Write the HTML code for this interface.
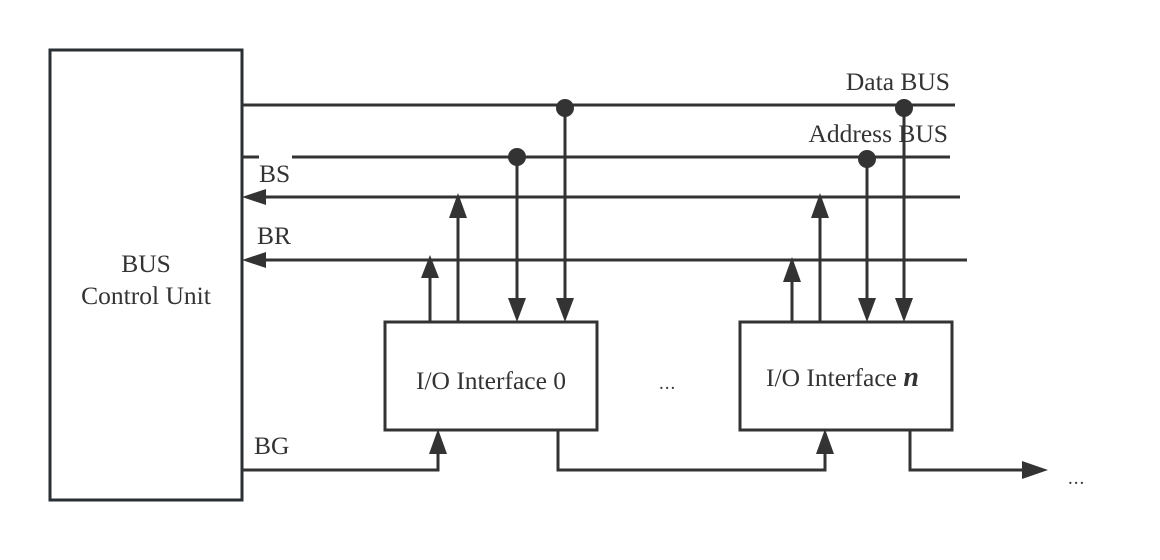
<!DOCTYPE html>
<html><head><meta charset="utf-8"><style>
html,body{margin:0;padding:0;background:#fff;width:1160px;height:560px;overflow:hidden}
</style></head><body>
<svg width="1160" height="560" viewBox="0 0 1160 560" xmlns="http://www.w3.org/2000/svg">
<g stroke="#333" stroke-width="3" fill="none">
<rect x="50" y="50" width="192" height="450" stroke="#2a2f33"/>
<rect x="385" y="322" width="212" height="108"/>
<rect x="740" y="322" width="212" height="108"/>
<line x1="242" y1="105" x2="955" y2="105"/>
<line x1="242" y1="157" x2="259" y2="157"/>
<line x1="292" y1="157" x2="950" y2="157"/>
<line x1="262" y1="197" x2="960" y2="197"/>
<line x1="262" y1="260" x2="967" y2="260"/>
<line x1="430" y1="322" x2="430" y2="275"/>
<line x1="458" y1="322" x2="458" y2="212"/>
<line x1="517" y1="157" x2="517" y2="305"/>
<line x1="565" y1="105" x2="565" y2="305"/>
<line x1="792" y1="322" x2="792" y2="275"/>
<line x1="820" y1="322" x2="820" y2="212"/>
<line x1="867" y1="157" x2="867" y2="305"/>
<line x1="904" y1="105" x2="904" y2="305"/>
<polyline points="242,470 438,470 438,448"/>
<polyline points="558,430 558,470 825,470 825,448"/>
<polyline points="910,430 910,470 1025,470"/>
</g>
<g fill="#333">
<circle cx="565" cy="108" r="9"/><circle cx="904" cy="108" r="9"/>
<circle cx="517" cy="157" r="9"/><circle cx="867" cy="159" r="9"/>
<polygon points="242,197 266,189 266,205"/>
<polygon points="242,260 266,252 266,268"/>
<polygon points="430,255 421,278 439,278"/>
<polygon points="458,193 449,218 467,218"/>
<polygon points="517,322 508,298 526,298"/>
<polygon points="565,322 556,298 574,298"/>
<polygon points="792,257 783,282 801,282"/>
<polygon points="820,193 811,218 829,218"/>
<polygon points="867,322 858,298 876,298"/>
<polygon points="904,322 895,298 913,298"/>
<polygon points="438,429 429,454 447,454"/>
<polygon points="825,429 816,454 834,454"/>
<polygon points="1048,470 1022,461 1022,479"/>
</g>
<g font-family="'Liberation Serif', 'Times New Roman', Times, serif" font-size="25.5" fill="#333">
<text x="146" y="272" text-anchor="middle">BUS</text>
<text x="146" y="304" text-anchor="middle">Control Unit</text>
<text x="259" y="182">BS</text>
<text x="257" y="244">BR</text>
<text x="254" y="454">BG</text>
<text x="950" y="90" text-anchor="end">Data BUS</text>
<text x="948" y="142" text-anchor="end">Address BUS</text>
<text x="491" y="389" text-anchor="middle">I/O Interface 0</text>
<text x="766" y="386">I/O Interface <tspan font-style="italic" font-weight="bold" font-size="28">n</tspan></text>
<text x="659" y="389" font-size="19" letter-spacing="1">...</text>
<text x="1068" y="484" font-size="19" letter-spacing="1">...</text>
</g>
</svg>
</body></html>
